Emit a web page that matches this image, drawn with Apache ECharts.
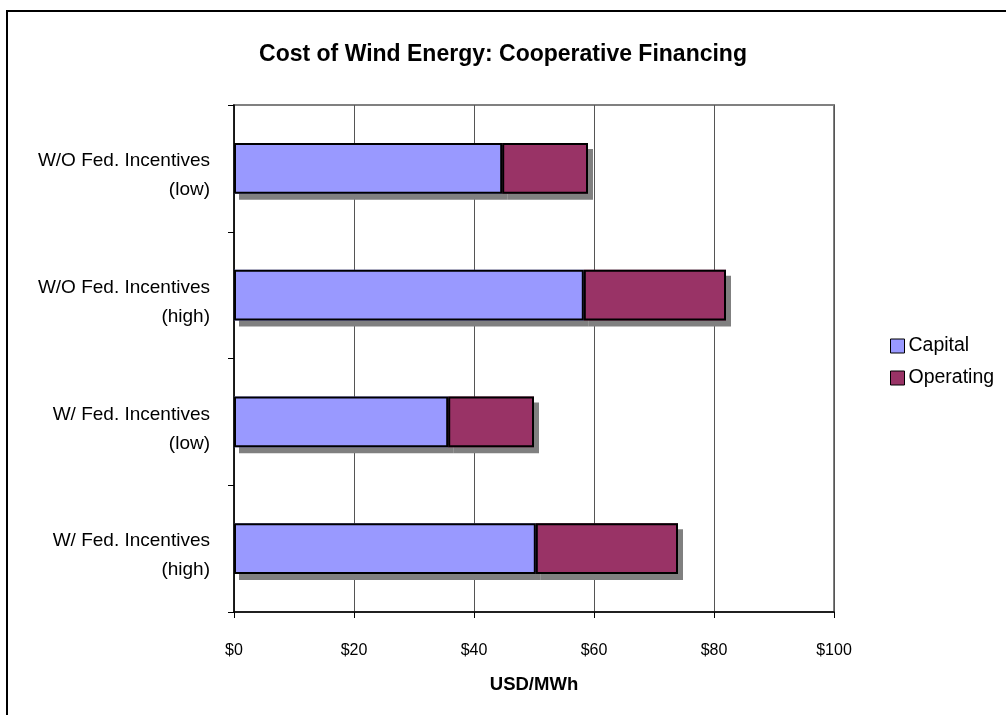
<!DOCTYPE html>
<html><head><meta charset="utf-8">
<script src="https://cdn.jsdelivr.net/npm/echarts@6/dist/echarts.min.js"></script>
<style>html,body{margin:0;padding:0;background:#fff}#c{width:1006px;height:715px}</style>
</head><body><div id="c"></div>
<script>
const categories = ['W/O Fed. Incentives\n(low)', 'W/O Fed. Incentives\n(high)', 'W/ Fed. Incentives\n(low)', 'W/ Fed. Incentives\n(high)'];
const capital = [44.7, 58.3, 35.7, 50.3];
const operating = [14.3, 23.7, 14.3, 23.7];
const xTicks = [0, 20, 40, 60, 80, 100];

const chart = echarts.init(document.getElementById('c'), null, {renderer: 'canvas'});
const font = 'Liberation Sans, Arial, sans-serif';
const colors = {Capital: '#9999ff', Operating: '#993366'};
function fillSeries(name, data) {
  return {name: name, type: 'bar', stack: 'fill', data: data, barWidth: '40%', barGap: '-100%', z: 2,
    itemStyle: {color: colors[name], borderWidth: 0,
      shadowColor: '#808080', shadowBlur: 0, shadowOffsetX: 5, shadowOffsetY: 6}};
}
function lineSeries(name, data) {
  return {name: name, type: 'bar', stack: 'line', data: data, barWidth: '40%', barGap: '-100%', z: 3,
    itemStyle: {color: 'transparent', borderColor: '#000', borderWidth: 2}};
}
const labStyle = {fontFamily: font, fontSize: 19, color: '#000', align: 'right'};
chart.setOption({
  animation: false,
  backgroundColor: '#fff',
  textStyle: {fontFamily: font},
  graphic: [{type: 'rect', shape: {x: 7, y: 11, width: 1020, height: 720},
    style: {fill: 'none', stroke: '#000', lineWidth: 2}, z: 100}],
  title: {text: 'Cost of Wind Energy: Cooperative Financing', left: 'center', top: 38,
    textStyle: {fontFamily: font, fontSize: 23, fontWeight: 'bold', color: '#000'}},
  legend: {orient: 'vertical', left: 885, top: 331, itemWidth: 14, itemHeight: 14, itemGap: 12,
    icon: 'rect', data: [{name: 'Capital', itemStyle: {color: colors.Capital}}, {name: 'Operating', itemStyle: {color: colors.Operating}}],
    itemStyle: {borderColor: '#000', borderWidth: 1},
    textStyle: {fontFamily: font, fontSize: 19.5, color: '#000', padding: [0, 0, 0, -1]}},
  grid: {left: 234, top: 105, width: 600, height: 507, show: true, borderColor: '#808080', borderWidth: 2, backgroundColor: 'transparent'},
  xAxis: {type: 'value', min: xTicks[0], max: xTicks[xTicks.length - 1], interval: 20,
    name: 'USD/MWh', nameLocation: 'middle', nameGap: 63,
    nameTextStyle: {fontFamily: font, fontSize: 18.5, fontWeight: 'bold', color: '#000'},
    axisLine: {show: true, lineStyle: {color: '#000', width: 1.5}},
    axisTick: {show: true, length: 6, lineStyle: {color: '#000'}},
    splitLine: {show: true, lineStyle: {color: '#555', width: 1}},
    axisLabel: {margin: 31, fontFamily: font, fontSize: 16, color: '#000', formatter: v => '$' + v}},
  yAxis: {type: 'category', data: categories, inverse: true,
    axisLine: {show: true, lineStyle: {color: '#000', width: 1.5}},
    axisTick: {show: true, length: 6, lineStyle: {color: '#000'}},
    axisLabel: {margin: 24, fontFamily: font, fontSize: 19, color: '#000', align: 'right',
      formatter: v => { const p = v.split('\n'); return '{a|' + p[0] + '}\n{b|' + p[1] + '}'; },
      rich: {a: Object.assign({padding: [14, 0, 0, 0]}, labStyle), b: Object.assign({padding: [10, 0, 0, 0]}, labStyle)}}},
  series: [
    fillSeries('Capital', capital),
    fillSeries('Operating', operating),
    lineSeries('Capital', capital),
    lineSeries('Operating', operating)
  ]
});
</script></body></html>
